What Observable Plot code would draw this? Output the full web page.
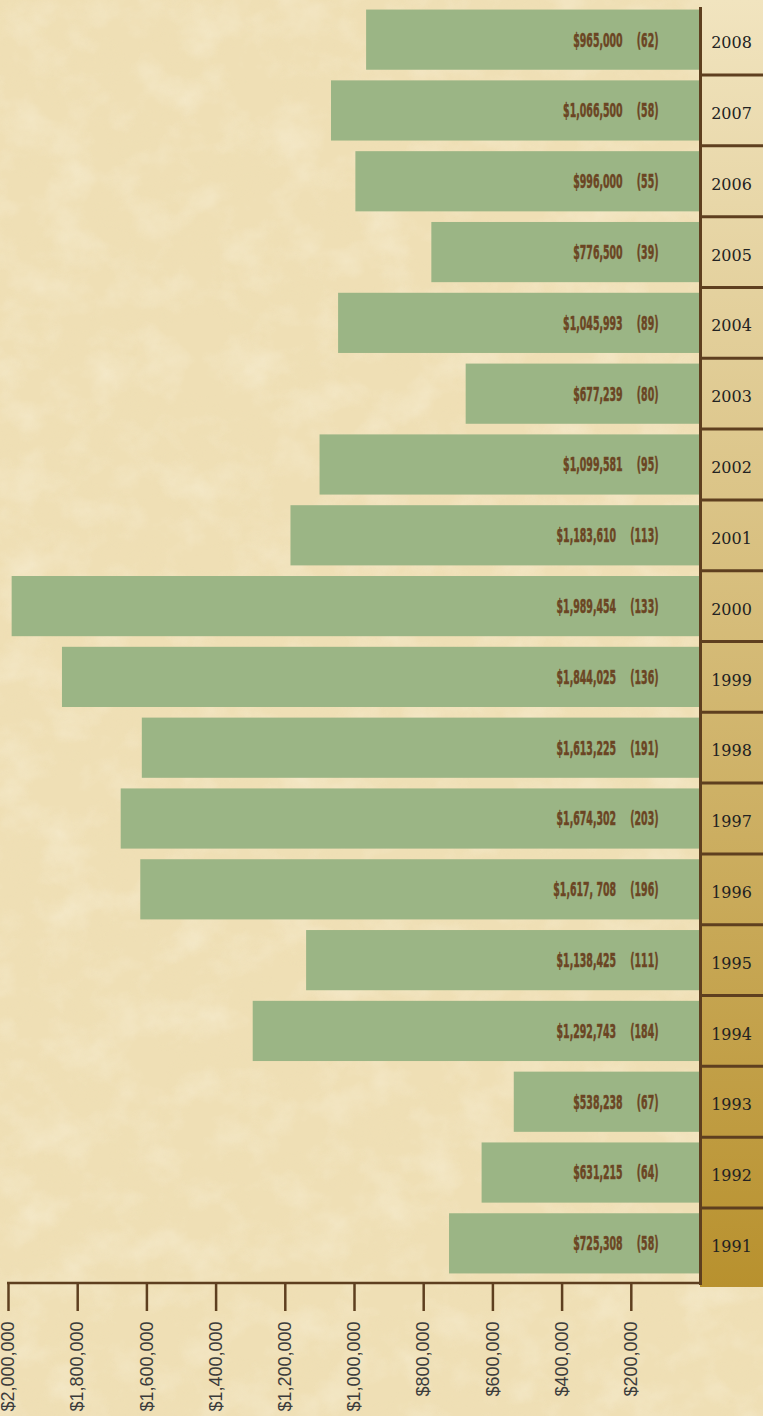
<!DOCTYPE html>
<html>
<head>
<meta charset="utf-8">
<script src="https://cdn.jsdelivr.net/npm/d3@7"></script>
<script src="https://cdn.jsdelivr.net/npm/@observablehq/plot@0.6"></script>
<style>
  html, body { margin: 0; padding: 0; }
  body { width: 763px; height: 1416px; overflow: hidden; background: #f0e0b6; }
  #wrap { position: relative; width: 763px; height: 1416px; }
  #bg { position: absolute; left: 0; top: 0; }
  #chart { position: absolute; left: 0; top: 0; }
  #chart svg g[aria-label="x-axis tick"] { stroke: #5e3f1f; stroke-width: 2.5px; }
  #chart svg g[aria-label="x-axis tick label"] { fill: #3b3b3b; font-size: 18px; font-family: "Liberation Sans", Arial, sans-serif; }
  #chart svg g[aria-label="x-axis"] line { stroke: #5e3f1f; stroke-width: 2.5px; }
  #chart svg g[aria-label="x-axis"] text { fill: #3b3b3b; font-size: 18px; font-family: "Liberation Sans", Arial, sans-serif; }
</style>
</head>
<body>
<div id="wrap">
  <svg id="bg" width="763" height="1416">
    <defs>
      <filter id="darkPatches" x="0" y="0" width="100%" height="100%">
        <feTurbulence type="fractalNoise" baseFrequency="0.018 0.022" numOctaves="5" seed="4" result="n"/>
        <feColorMatrix in="n" type="matrix" values="0 0 0 0 0.86  0 0 0 0 0.74  0 0 0 0 0.46  1.5 0 0 0 -0.62"/>
      </filter>
      <filter id="lightPatches" x="0" y="0" width="100%" height="100%">
        <feTurbulence type="fractalNoise" baseFrequency="0.022 0.026" numOctaves="4" seed="11" result="n"/>
        <feColorMatrix in="n" type="matrix" values="0 0 0 0 0.98  0 0 0 0 0.95  0 0 0 0 0.84  0 1.5 0 0 -0.66"/>
      </filter>
    </defs>
    <rect width="763" height="1416" fill="#efdfb5"/>
    <rect width="763" height="1416" filter="url(#darkPatches)" opacity="0.55"/>
    <rect width="763" height="1416" filter="url(#lightPatches)" opacity="0.45"/>
  </svg>
  <div id="chart"></div>
</div>
<script>
// ---- data ----
const years = ["2008","2007","2006","2005","2004","2003","2002","2001","2000","1999","1998","1997","1996","1995","1994","1993","1992","1991"];
const amounts = [965000, 1066500, 996000, 776500, 1045993, 677239, 1099581, 1183610, 1989454, 1844025, 1613225, 1674302, 1617708, 1138425, 1292743, 538238, 631215, 725308];
const amountLabels = ["$965,000","$1,066,500","$996,000","$776,500","$1,045,993","$677,239","$1,099,581","$1,183,610","$1,989,454","$1,844,025","$1,613,225","$1,674,302","$1,617, 708","$1,138,425","$1,292,743","$538,238","$631,215","$725,308"];
const counts = [62, 58, 55, 39, 89, 80, 95, 113, 133, 136, 191, 203, 196, 111, 184, 67, 64, 58];
const tickValues = [200000, 400000, 600000, 800000, 1000000, 1200000, 1400000, 1600000, 1800000, 2000000];

const rows = years.map((year, i) => ({year, amount: amounts[i], label: amountLabels[i] + "\u2003\u2002(" + counts[i] + ")"}));

// ---- style ----
const barColor = "#9bb585";
const brown = "#5e3f1f";
const labelColor = "#6b4523";

function yearColumn(index, scales, values, dimensions) {
  const {width, height, marginRight, marginBottom} = dimensions;
  const y = scales.y;
  const pad = (y.step() - y.bandwidth()) / 2;
  const x0 = width - marginRight;
  const bottom = height - marginBottom;
  const g = d3.create("svg:g");
  const grad = g.append("defs").append("linearGradient")
    .attr("id", "yearGrad").attr("gradientUnits", "userSpaceOnUse")
    .attr("x1", 0).attr("x2", 0).attr("y1", 0).attr("y2", bottom + 4);
  grad.append("stop").attr("offset", 0).attr("stop-color", "#f1e4bf");
  grad.append("stop").attr("offset", 1).attr("stop-color", "#b8912e");
  g.append("rect").attr("x", x0).attr("y", 0).attr("width", marginRight).attr("height", bottom + 4).attr("fill", "url(#yearGrad)");
  years.slice(1).forEach(yr => {
    const yy = y(yr) - pad;
    g.append("line").attr("x1", x0).attr("x2", width).attr("y1", yy).attr("y2", yy)
      .attr("stroke", brown).attr("stroke-width", 3);
  });
  return g.node();
}

function baseLine(index, scales, values, dimensions) {
  const {width, height, marginLeft, marginRight, marginBottom} = dimensions;
  const yy = height - marginBottom;
  const g = d3.create("svg:g");
  g.append("line").attr("x1", marginLeft - 1).attr("x2", width - marginRight + 1)
    .attr("y1", yy).attr("y2", yy).attr("stroke", brown).attr("stroke-width", 2.5);
  return g.node();
}

const chart = Plot.plot({
  width: 763,
  height: 1416,
  marginLeft: 8,
  marginRight: 63,
  marginTop: 0,
  marginBottom: 133,
  style: {background: "transparent", overflow: "visible", fontFamily: "Liberation Sans, Arial, sans-serif"},
  x: {
    domain: [0, 2000000],
    reverse: true,
    ticks: tickValues,
    tickFormat: d3.format("$,"),
    tickSize: 28,
    tickPadding: 10,
    tickRotate: -90,
    label: null
  },
  y: {domain: years, paddingInner: 0.15, paddingOuter: 0.135, round: false, axis: null},
  marks: [
    yearColumn,
    Plot.barX(rows, {x: "amount", y: "year", fill: barColor}),
    Plot.text(rows, {
      y: "year", text: "label", frameAnchor: "right", dx: -42, textAnchor: "end",
      fill: labelColor, stroke: labelColor, strokeWidth: 0.5, fontWeight: "bold", fontSize: 20,
      fontFamily: "Liberation Sans Narrow, DejaVu Sans Condensed, Liberation Sans, sans-serif"
    }),
    Plot.text(rows, {
      y: "year", text: "year", frameAnchor: "right", dx: 31, dy: 3, textAnchor: "middle",
      fill: "#222", fontSize: 16, fontFamily: "DejaVu Serif, Liberation Serif, serif"
    }),
    Plot.ruleX([0], {stroke: brown, strokeWidth: 3, insetTop: 7, insetBottom: -2}),
    baseLine
  ]
});
document.getElementById("chart").appendChild(chart);

// condense the bar labels horizontally (narrow display face), scaling about the right anchor
const labelTexts = Array.from(chart.querySelectorAll("text")).filter(t => t.textContent.includes("\u2003\u2002("));
const ref = labelTexts.find(t => t.textContent.startsWith("$1,989,454"));
if (ref) {
  const k = 102 / ref.getComputedTextLength();
  labelTexts.forEach(t => {
    const tr = t.getAttribute("transform") || "";
    t.setAttribute("transform", (tr + " scale(" + k.toFixed(4) + ",1)").trim());
  });
}
</script>
</body>
</html>
